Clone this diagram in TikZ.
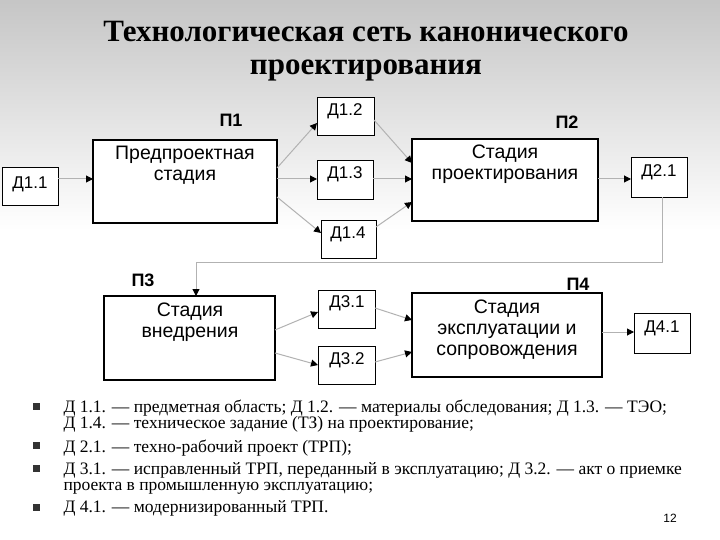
\documentclass[tikz,border=0pt]{standalone}
\usepackage{fontspec}
\setmainfont{Liberation Serif}
\newfontfamily\boxfont{Liberation Sans}
\usetikzlibrary{arrows.meta}
\begin{document}
\begin{tikzpicture}[x=1pt,y=-1pt,
 bx/.style={draw=black,line width=1.3pt,fill=white},
 dbx/.style={draw=black,line width=0.8pt,fill=white,font=\boxfont\fontsize{17}{19}\selectfont},
 lbl/.style={font=\boxfont\bfseries\fontsize{18}{20}\selectfont},
 txt/.style={font=\boxfont\fontsize{19.5}{21}\selectfont,align=center,anchor=north},
 ln/.style={draw=gray!60,line width=1pt,-{Triangle[length=7pt,width=7pt,color=black]}}]
\shade[top color=gray!45,bottom color=white] (0,0) rectangle (720,230);
\fill[white] (0,230) rectangle (720,540);
\useasboundingbox (0,0) rectangle (720,540);
\node[font=\bfseries\fontsize{31}{33}\selectfont,align=center] (title) at (366,51) {Технологическая сеть канонического\\проектирования};
% boxes
\draw[dbx] (2,167) rectangle (58,205); \node[dbx,draw=none,fill=none] (d11) at (30,184) {Д1.1};
\draw[bx] (93,140) rectangle (277,223); \node[txt] (p1t) at (185,143) {Предпроектная\\стадия};
\draw[dbx] (317,97) rectangle (374,135); \node[dbx,draw=none,fill=none] (d12) at (345,111) {Д1.2};
\draw[dbx] (317,160) rectangle (373,199); \node[dbx,draw=none,fill=none] (d13) at (345,174) {Д1.3};
\draw[dbx] (321,220) rectangle (376,258); \node[dbx,draw=none,fill=none] (d14) at (348,234) {Д1.4};
\draw[bx] (412,139) rectangle (598,221); \node[txt] (p2t) at (505,141) {Стадия\\проектирования};
\draw[dbx] (631,157) rectangle (687,197); \node[dbx,draw=none,fill=none] (d21) at (659,172) {Д2.1};
\draw[bx] (104,296) rectangle (275,380); \node[txt] (p3t) at (190,299) {Стадия\\внедрения};
\draw[dbx] (318,290) rectangle (375,328); \node[dbx,draw=none,fill=none] (d31) at (347,303) {Д3.1};
\draw[dbx] (318,346) rectangle (375,384); \node[dbx,draw=none,fill=none] (d32) at (347,360) {Д3.2};
\draw[bx] (412,293) rectangle (602,377); \node[txt] (p4t) at (507,296) {Стадия\\эксплуатации и\\сопровождения};
\draw[dbx] (634,313) rectangle (690,353); \node[dbx,draw=none,fill=none] (d41) at (662,328) {Д4.1};
\node[lbl] (l1) at (231,120) {П1};
\node[lbl] (l2) at (567,122) {П2};
\node[lbl] (l3) at (143,280) {П3};
\node[lbl] (l4) at (578,284) {П4};
% connectors
\coordinate (a) at (58,179); \coordinate (b) at (93,179);
\draw[ln] (a) -- (b);
\draw[ln] (277,168) -- (317,123);
\draw[ln] (277,179) -- (317,179);
\draw[ln] (277,197) -- (321,233);
\draw[ln] (374,120) -- (412,163);
\draw[ln] (373,179) -- (412,179);
\draw[ln] (376,227) -- (412,202);
\draw[ln] (598,179) -- (631,179);
\draw[ln] (662,197) -- (662,262) -- (196,262) -- (196,296);
\draw[ln] (275,330) -- (318,312);
\draw[ln] (275,353) -- (318,365);
\draw[ln] (375,308) -- (412,320);
\draw[ln] (375,362) -- (412,352);
\draw[ln] (602,332) -- (634,332);
% bullets
\begin{scope}[every node/.style={anchor=north west,font=\fontsize{17.5}{16}\selectfont,align=left}]
\node (t1) at (60,396) {Д 1.1. — предметная область; Д 1.2. — материалы обследования; Д 1.3. — ТЭО;\\Д 1.4. — техническое задание (ТЗ) на проектирование;};
\node (t2) at (60,436) {Д 2.1. — техно-рабочий проект (ТРП);};
\node (t3) at (60,459) {Д 3.1. — исправленный ТРП, переданный в эксплуатацию; Д 3.2. — акт о приемке\\проекта в промышленную эксплуатацию;};
\node (t4) at (60,497) {Д 4.1. — модернизированный ТРП.};
\end{scope}
\foreach \y [count=\i] in {406,445,468,507} \fill[black!80] (33,\y-3.5) rectangle (40,\y+3.5);
\node[font=\boxfont\fontsize{12}{13}\selectfont] (pg) at (670,518) {12};
\end{tikzpicture}
\end{document}
